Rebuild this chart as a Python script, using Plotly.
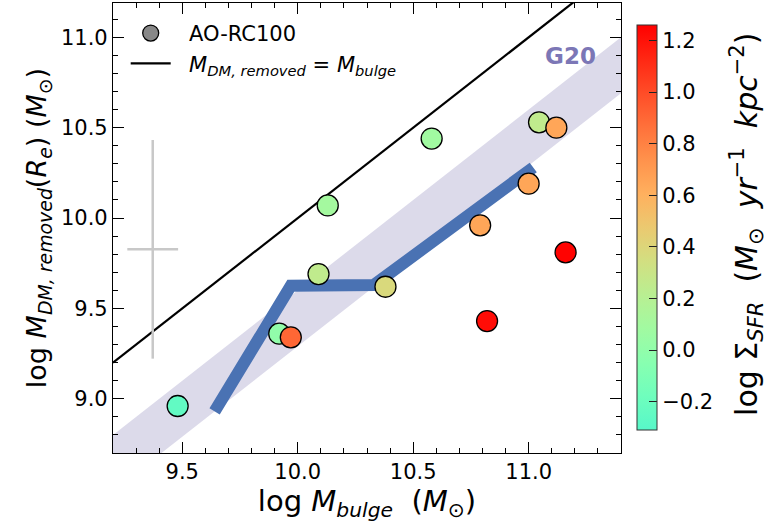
import math
import plotly.graph_objects as go

# ---- data ----
m_bulge = [9.48, 9.92, 9.97, 10.09, 10.13, 10.38, 10.58, 10.79, 10.82, 11.00, 11.045, 11.12, 11.16]
m_dm = [8.96, 9.36, 9.34, 9.69, 10.07, 9.62, 10.44, 9.96, 9.43, 10.19, 10.53, 10.50, 9.81]
log_sfr = [-0.25, 0.0, 0.9, 0.25, 0.1, 0.38, 0.08, 0.65, 1.22, 0.65, 0.25, 0.65, 1.25]

g20_x = [9.64, 9.97, 10.33, 11.02]
g20_y = [8.93, 9.625, 9.63, 10.28]

band_x = [9.2, 11.4]
band_upper_offset = -0.4
band_lower_offset = -0.71

one_to_one_x = [9.2, 11.4]

err_x = [9.372]
err_y = [9.827]
err_dx = [0.11]
err_dy = [0.605]

cmin, cmax = -0.31, 1.26

# ---- colormap: truncated matplotlib 'rainbow' (0.42 -> 1.0) ----
def rainbow(t):
    r = min(1, abs(2 * t - 0.5))
    g = math.sin(math.pi * t)
    b = math.cos(math.pi * t / 2)
    return "rgb(%d,%d,%d)" % (round(r * 255), round(g * 255), round(max(b, 0) * 255))

n = 12
colorscale = [[i / n, rainbow(0.42 + 0.58 * i / n)] for i in range(n + 1)]

FONT = "DejaVu Sans"
SP = "\u00a0"
fig = go.Figure()

# G20 band
bx = band_x + band_x[::-1]
by = [x + band_upper_offset for x in band_x] + [x + band_lower_offset for x in band_x[::-1]]
fig.add_trace(go.Scatter(x=bx, y=by, fill="toself", fillcolor="#dcdaea",
                         line=dict(width=0), mode="lines", showlegend=False, hoverinfo="skip"))

# 1:1 line
fig.add_trace(go.Scatter(x=one_to_one_x, y=one_to_one_x, mode="lines",
                         line=dict(color="black", width=2.2),
                         name=SP * 2 + "<i>M</i><sub><i>DM, removed</i></sub> = <i>M</i><sub><i>bulge</i></sub>",
                         legendrank=2))

# G20 relation
fig.add_trace(go.Scatter(x=g20_x, y=g20_y, mode="lines",
                         line=dict(color="#4a72b3", width=12), showlegend=False))

# typical error cross
fig.add_trace(go.Scatter(x=err_x, y=err_y, mode="markers", marker=dict(size=0.1, color="rgba(0,0,0,0)"),
                         error_x=dict(type="data", array=err_dx, color="#c8c8c8", thickness=2.5, width=0),
                         error_y=dict(type="data", array=err_dy, color="#c8c8c8", thickness=2.5, width=0),
                         showlegend=False, hoverinfo="skip"))

cb_title = ("log" + SP + "\u03a3<sub><i>SFR</i></sub>" + SP * 2 + "(<i>M</i><sub>\u2299</sub>" + SP * 2 +
            "<i>yr</i><sup>\u22121</sup>" + SP * 2 + "<i>kpc</i><sup>\u22122</sup>)")

# points
fig.add_trace(go.Scatter(
    x=m_bulge, y=m_dm, mode="markers", showlegend=False,
    marker=dict(size=21, color=log_sfr, colorscale=colorscale, cmin=cmin, cmax=cmax,
                line=dict(color="black", width=1.3),
                colorbar=dict(
                    x=1.031, xanchor="left", y=0.501, yanchor="middle", len=0.9, lenmode="fraction",
                    xpad=0, ypad=0, thickness=20, outlinewidth=1, outlinecolor="#333",
                    ticks="inside", ticklen=8, tickcolor="#222", tickwidth=1.2,
                    tickvals=[-0.2, 0.0, 0.2, 0.4, 0.6, 0.8, 1.0, 1.2],
                    ticktext=["\u22120.2", "0.0", "0.2", "0.4", "0.6", "0.8", "1.0", "1.2"],
                    tickfont=dict(family=FONT, size=21, color="black"),
                ))))

# legend dummy for points
fig.add_trace(go.Scatter(x=[None], y=[None], mode="markers", name=SP * 2 + "AO-RC100",
                         marker=dict(size=21, color="#888888", line=dict(color="black", width=1.3)),
                         legendrank=1))

fig.add_annotation(x=11.182, y=10.898, text="<b>G20</b>", showarrow=False,
                   font=dict(family=FONT, size=23, color="#7c77b6"))

# colorbar label
fig.add_annotation(xref="paper", yref="paper", x=1.248, y=0.509, xanchor="center", yanchor="middle",
                   text=cb_title, textangle=-90, showarrow=False,
                   font=dict(family=FONT, size=30, color="black"))

axis_common = dict(showgrid=False, zeroline=False, showline=True, linecolor="black", linewidth=1.2,
                   mirror="allticks", ticks="inside", ticklen=11, tickwidth=1.2, tickcolor="black",
                   tickfont=dict(family=FONT, size=21, color="black"),
                   minor=dict(ticks="inside", ticklen=5, tickwidth=1, tickcolor="black", dtick=0.1, showgrid=False))

fig.update_xaxes(range=[9.2, 11.4], tickvals=[9.5, 10.0, 10.5, 11.0], ticktext=["9.5", "10.0", "10.5", "11.0"],
                 title=dict(text="log" + SP + "<i>M</i><sub><i>bulge</i></sub>" + SP * 2 + "(<i>M</i><sub>\u2299</sub>)",
                            font=dict(family=FONT, size=29, color="black"), standoff=2),
                 **axis_common)
fig.update_yaxes(range=[8.7, 11.19], tickvals=[9.0, 9.5, 10.0, 10.5, 11.0], ticktext=["9.0", "9.5", "10.0", "10.5", "11.0"],
                 title=dict(text="log" + SP + "<i>M</i><sub><i>DM, removed</i></sub>(<i>R</i><sub><i>e</i></sub>)" + SP + "(<i>M</i><sub>\u2299</sub>)",
                            font=dict(family=FONT, size=27, color="black"), standoff=6),
                 **axis_common)

fig.update_layout(
    width=767, height=531,
    margin=dict(l=113, r=146, t=3, b=78, autoexpand=False),
    paper_bgcolor="white", plot_bgcolor="white",
    font=dict(family=FONT, color="black"),
    legend=dict(x=0.025, y=0.978, xanchor="left", yanchor="top", bgcolor="rgba(255,255,255,0)",
                font=dict(family=FONT, size=21, color="black"), itemwidth=40, tracegroupgap=0),
)

fig.write_html("out.html", config={"displayModeBar": False},
               post_script="document.body.style.margin='0px';document.body.style.padding='0px';")
